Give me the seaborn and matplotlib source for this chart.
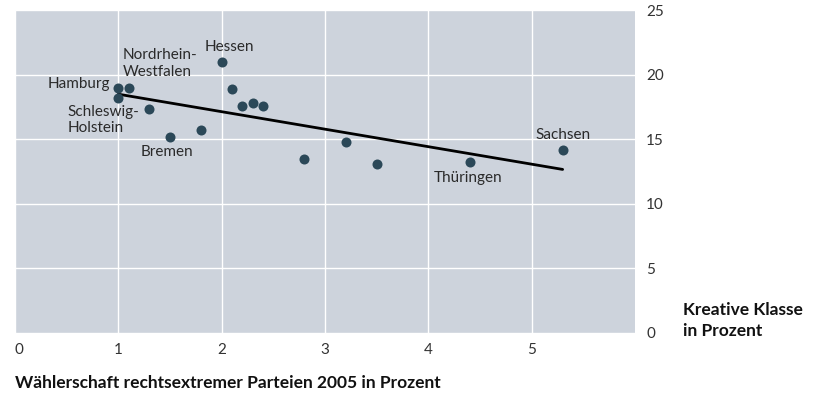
import numpy as np
import pandas as pd
import matplotlib
matplotlib.use("Agg")
import matplotlib.pyplot as plt
import seaborn as sns

# Daten
laender = ["Hamburg", "Nordrhein-\nWestfalen", "Schleswig-\nHolstein", "", "Bremen", "",
           "Hessen", "", "", "", "", "", "", "", "Thüringen", "Sachsen"]
rechts = [1.0, 1.1, 1.0, 1.3, 1.5, 1.8, 2.0, 2.1, 2.2, 2.3, 2.4, 2.8, 3.2, 3.5, 4.4, 5.3]
kreativ = [19.0, 19.0, 18.2, 17.3, 15.2, 15.7, 21.0, 18.9, 17.6, 17.8, 17.6, 13.5, 14.8, 13.1, 13.2, 14.2]

x_ticks = [0, 1, 2, 3, 4, 5]
y_ticks = [0, 5, 10, 15, 20, 25]

# Textposition relativ zum Punkt (Pixel), Ausrichtung
beschriftung = {
    "Hamburg": ((-8, 4), "right", "center"),
    "Nordrhein-\nWestfalen": ((-6, 9), "left", "bottom"),
    "Schleswig-\nHolstein": ((-51, -7), "left", "top"),
    "Bremen": ((-3, -8), "center", "top"),
    "Hessen": ((8, 8), "center", "bottom"),
    "Thüringen": ((-2, -9), "center", "top"),
    "Sachsen": ((0, 8), "center", "bottom"),
}

df = pd.DataFrame({"land": laender, "rechts": rechts, "kreativ": kreativ})

sns.set_style("whitegrid")
plt.rcParams["font.family"] = ["Lato", "DejaVu Sans"]

fig = plt.figure(figsize=(8.19, 4.01), dpi=100)
ax = fig.add_axes([0.0183, 0.1696, 0.7570, 0.8054])
ax.set_facecolor("#cdd3dc")

sns.regplot(data=df, x="rechts", y="kreativ", ci=None, truncate=True, ax=ax,
            scatter_kws={"s": 52, "color": "#2b4858", "alpha": 1, "zorder": 3, "linewidths": 0},
            line_kws={"color": "black", "linewidth": 2, "zorder": 2})

for _, r in df.iterrows():
    if r["land"] in beschriftung:
        off, ha, va = beschriftung[r["land"]]
        ax.annotate(r["land"], (r["rechts"], r["kreativ"]), xytext=off,
                    textcoords="offset pixels", ha=ha, va=va, fontsize=11,
                    color="#2a2a2a", multialignment="left")

ax.set_xlim(0, 6)
ax.set_ylim(0, 25)
ax.set_xticks(x_ticks)
ax.set_yticks(y_ticks)
ax.grid(True, color="white", linewidth=1.0)
ax.set_axisbelow(True)
for s in ax.spines.values():
    s.set_visible(False)
ax.yaxis.tick_right()
ax.tick_params(axis="both", length=0, labelsize=11, labelcolor="#333333")
ax.tick_params(axis="y", pad=8)
ax.tick_params(axis="x", pad=7)
ax.set_xlabel("")
ax.set_ylabel("")
# x=0 Beschriftung linksbündig wie im Original
for lbl in ax.get_xticklabels():
    if lbl.get_text() == "0":
        lbl.set_ha("left")

fig.text(0.0183, 0.045, "Wählerschaft rechtsextremer Parteien 2005 in Prozent",
         fontsize=12.5, fontweight="bold", ha="left", va="center", color="#111111")
fig.text(0.834, 0.20, "Kreative Klasse\nin Prozent", fontsize=12.5, fontweight="bold",
         ha="left", va="center", color="#111111", linespacing=1.4)

fig.savefig("out.png", dpi=100)
